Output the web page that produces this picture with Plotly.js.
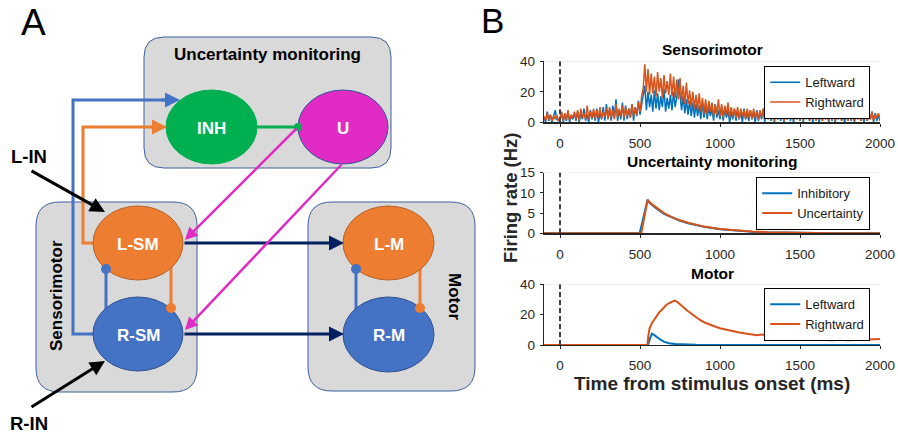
<!DOCTYPE html>
<html>
<head>
<meta charset="utf-8">
<script src="https://cdn.plot.ly/plotly-3.0.1.min.js"></script>
<style>html,body{margin:0;padding:0;background:#fff;}#chart{width:898px;height:438px;}</style>
</head>
<body>
<div id="chart"></div>
<script>
// ---------------- DATA ----------------
const smStart = -100;           // ms, first sample of sensorimotor traces
const smStep = 10;              // ms between samples
const smLeftward = [
  3,0,7,1,5,0,4,8,2,1,
  2,6,0,5,1,7,0,4,2,6,
  1,7,0,6,2,9,1,5,0,8,
  2,7,1,9,0,6,2,10,1,12,
  2,9,1,11,3,15,1,8,2,13,
  1,11,2,9,3,12,1,10,4,14,
  5,12,16,24,8,20,10,18,7,21,
  9,19,8,17,10,22,7,16,9,18,
  8,20,10,17,28,19,8,17,6,15,
  5,14,4,13,3,12,4,11,2,13,
  3,11,2,10,4,9,1,12,3,8,
  2,10,1,9,3,8,0,7,2,9,
  1,8,2,7,0,9,2,6,1,8,
  2,7,0,8,1,6,2,9,0,14,
  2,7,1,6,0,8,2,5,1,7,
  0,6,2,8,1,5,0,7,2,6,
  1,8,0,6,2,5,1,7,0,6,
  2,5,0,7,1,6,2,5,0,8,
  1,6,0,5,2,7,1,4,0,6,
  2,7,1,5,0,6,2,8,1,5,
  0,6,1,5,2,7,0,6,1,5,
  1
];
const smRightward = [
  4,1,6,2,5,1,4,2,5,1,
  3,7,1,6,2,8,1,5,3,7,
  2,8,1,9,3,6,2,11,2,7,
  3,9,2,8,3,10,2,7,4,9,
  2,10,3,8,2,12,3,9,4,11,
  3,10,4,9,3,12,4,10,5,13,
  7,17,22,38,20,35,18,32,19,30,
  17,33,20,29,16,31,19,27,18,32,
  17,30,16,28,15,29,14,24,12,26,
  12,21,10,20,9,18,8,19,7,16,
  6,15,5,14,7,13,4,12,5,15,
  4,12,3,11,5,13,3,10,4,9,
  3,10,2,9,4,8,2,9,3,8,
  2,9,3,7,2,8,3,9,2,7,
  2,7,3,8,1,6,2,7,3,6,
  1,7,2,6,3,8,1,6,2,7,
  2,6,1,7,3,5,1,6,2,8,
  1,6,2,5,1,7,2,6,1,5,
  2,6,1,5,2,7,1,6,3,5,
  1,6,2,8,1,5,2,6,1,7,
  2,5,1,6,2,7,1,5,3,6,
  2
];

const umInhX = [-100, 498, 546, 560, 580, 600, 650, 700, 750, 800, 850, 900, 1000, 1100, 1200, 1300, 1400, 1500, 1700, 2000];
const umInhY = [0, 0, 8.0, 7.5, 6.8, 6.2, 4.8, 3.9, 3.1, 2.5, 2.0, 1.6, 1.0, 0.65, 0.4, 0.25, 0.16, 0.1, 0.04, 0];
const umUncX = [-100, 508, 548, 560, 580, 600, 650, 700, 750, 800, 850, 900, 1000, 1100, 1200, 1300, 1400, 1500, 1700, 2000];
const umUncY = [0, 0, 8.3, 7.7, 7.0, 6.4, 5.0, 4.0, 3.2, 2.6, 2.05, 1.65, 1.05, 0.67, 0.42, 0.26, 0.17, 0.1, 0.04, 0];

const mLeftX = [-100, 550, 565, 575, 590, 610, 630, 650, 680, 720, 780, 850, 1000, 2000];
const mLeftY = [0, 0, 5, 7.5, 6.5, 4.8, 3.3, 2.2, 1.2, 0.6, 0.25, 0.1, 0.05, 0];
const mRightX = [-100, 546, 552, 560, 575, 590, 605, 620, 640, 660, 680, 700, 715, 730, 750, 770, 790, 810, 830, 850, 875, 900, 930, 960, 1000, 1040, 1080, 1120, 1160, 1200, 1230, 1260, 1300, 1350, 1400, 1450, 1500, 1550, 1600, 1650, 1700, 1750, 1800, 1850, 1900, 1950, 2000];
const mRightY = [0, 0, 6, 11, 14.5, 17, 19.5, 21.5, 23.5, 26, 27.5, 28.5, 29.3, 28.6, 27, 25, 23, 21.5, 19.8, 18, 16.5, 15, 13.5, 12.5, 11, 10, 9.2, 8.3, 7.6, 6.8, 6.5, 6.9, 6.0, 5.3, 4.8, 4.4, 4.0, 3.6, 3.4, 3.3, 3.2, 3.4, 3.1, 3.3, 3.5, 3.6, 3.9];

const xTicks = [0, 500, 1000, 1500, 2000];
const yTicksSM = [0, 20, 40];
const yTicksUM = [0, 5, 10, 15];
const yTicksM = [0, 20, 40];
const panelTitles = ['Sensorimotor', 'Uncertainty monitoring', 'Motor'];
const legendNames = [['Leftward', 'Rightward'], ['Inhibitory', 'Uncertainty'], ['Leftward', 'Rightward']];

// ---------------- STYLE ----------------
const W = 898, H = 438;
const FONT = 'Liberation Sans, Arial, Helvetica, sans-serif';
const BLUE = '#0072BD', ORANGE = '#D95319', AX = '#262626';
const px = v => v / W;
const py = v => 1 - v / H;

const traces = [
  {x0: smStart, dx: smStep, y: smLeftward, type: 'scatter', mode: 'lines', name: legendNames[0][0],
   line: {color: BLUE, width: 1.5}, xaxis: 'x', yaxis: 'y', legend: 'legend'},
  {x0: smStart, dx: smStep, y: smRightward, type: 'scatter', mode: 'lines', name: legendNames[0][1],
   line: {color: ORANGE, width: 1.5}, xaxis: 'x', yaxis: 'y', legend: 'legend'},
  {x: umInhX, y: umInhY, type: 'scatter', mode: 'lines', name: legendNames[1][0],
   line: {color: BLUE, width: 2}, xaxis: 'x2', yaxis: 'y2', legend: 'legend2'},
  {x: umUncX, y: umUncY, type: 'scatter', mode: 'lines', name: legendNames[1][1],
   line: {color: ORANGE, width: 2}, xaxis: 'x2', yaxis: 'y2', legend: 'legend2'},
  {x: mLeftX, y: mLeftY, type: 'scatter', mode: 'lines', name: legendNames[2][0],
   line: {color: BLUE, width: 2}, xaxis: 'x3', yaxis: 'y3', legend: 'legend3'},
  {x: mRightX, y: mRightY, type: 'scatter', mode: 'lines', name: legendNames[2][1],
   line: {color: ORANGE, width: 2}, xaxis: 'x3', yaxis: 'y3', legend: 'legend3'}
];

const xDom = [px(544), px(880)];
const yDoms = [[py(122.3), py(61.3)], [py(233.3), py(172.5)], [py(345), py(284.3)]];
const yRanges = [[0, 40], [0, 15], [0, 40]];
const yTickSets = [yTicksSM, yTicksUM, yTicksM];

function xaxisDef(anchor) {
  return {domain: xDom, range: [-100, 2000], anchor: anchor, tickvals: xTicks, ticks: 'outside', ticklen: 3,
    tickcolor: AX, tickwidth: 1, showline: true, linecolor: AX, linewidth: 1.2, showgrid: false, zeroline: false,
    tickfont: {family: FONT, size: 13.5, color: AX}, ticklabelstandoff: 5, fixedrange: true};
}
function yaxisDef(i, anchor) {
  return {domain: yDoms[i], range: yRanges[i], anchor: anchor, tickvals: yTickSets[i], ticks: 'outside', ticklen: 3,
    tickcolor: AX, tickwidth: 1, showline: true, linecolor: AX, linewidth: 1.2, showgrid: false, zeroline: false,
    tickfont: {family: FONT, size: 13.5, color: AX}, ticklabelstandoff: 2, fixedrange: true};
}

const shapes = [];
const annotations = [];

// plot decorations: light top border and dashed onset line
['', '2', '3'].forEach((s, i) => {
  shapes.push({type: 'line', xref: 'x' + s, yref: 'y' + s, x0: -100, x1: 2000, y0: yRanges[i][1], y1: yRanges[i][1],
    line: {color: '#e3e3e3', width: 1}, layer: 'below'});
  shapes.push({type: 'line', xref: 'x' + s, yref: 'y' + s, x0: 0, x1: 0, y0: 0, y1: yRanges[i][1],
    line: {color: '#404040', width: 2, dash: '5px,3px'}});
});

// subplot titles
const titleY = [50, 162, 273];
panelTitles.forEach((t, i) => annotations.push({text: '<b>' + t + '</b>', xref: 'paper', yref: 'paper',
  x: px(712), y: py(titleY[i]), xanchor: 'center', yanchor: 'middle', showarrow: false,
  font: {family: FONT, size: 15.5, color: '#000'}}));
annotations.push({text: '<b>Time from stimulus onset (ms)</b>', xref: 'paper', yref: 'paper', x: px(712), y: py(383),
  xanchor: 'center', yanchor: 'middle', showarrow: false, font: {family: FONT, size: 19, color: AX}});
annotations.push({text: '<b>Firing rate (Hz)</b>', xref: 'paper', yref: 'paper', x: px(510), y: py(198), textangle: -90,
  xanchor: 'center', yanchor: 'middle', showarrow: false, font: {family: FONT, size: 18.5, color: AX}});

// ---------------- DIAGRAM (panel A) ----------------
function rrect(x0, y0, x1, y1, r) {
  const P = (x, y) => px(x) + ',' + py(y);
  return 'M' + P(x0 + r, y0) + ' L' + P(x1 - r, y0) + ' Q' + P(x1, y0) + ' ' + P(x1, y0 + r) +
    ' L' + P(x1, y1 - r) + ' Q' + P(x1, y1) + ' ' + P(x1 - r, y1) +
    ' L' + P(x0 + r, y1) + ' Q' + P(x0, y1) + ' ' + P(x0, y1 - r) +
    ' L' + P(x0, y0 + r) + ' Q' + P(x0, y0) + ' ' + P(x0 + r, y0) + ' Z';
}
function poly(pts) {
  return pts.map((p, i) => (i ? 'L' : 'M') + px(p[0]) + ',' + py(p[1])).join(' ');
}
const BOXFILL = '#d9d9d9', BOXLINE = '#3c5f9e';
[[144, 37, 391, 168, 20], [36, 202, 197, 392, 24], [308, 202, 475, 391, 24]].forEach(b =>
  shapes.push({type: 'path', xref: 'paper', yref: 'paper', path: rrect(...b), fillcolor: BOXFILL,
    line: {color: BOXLINE, width: 1}}));

const CB = '#4472c4', CO = '#ed7d31', CG = '#00b050', CM = '#e02bc4', NAVY = '#002060';
function seg(pts, color, w) {
  shapes.push({type: 'path', xref: 'paper', yref: 'paper', path: poly(pts), line: {color: color, width: w}});
}
// connector lines (drawn under the ellipses)
seg([[95, 334], [73, 334], [73, 100], [172, 100]], CB, 3);
seg([[95, 243], [83, 243], [83, 127], [158, 127]], CO, 3);
seg([[106, 315], [106, 269]], CB, 3);
seg([[171, 262], [171, 308]], CO, 3);
seg([[356, 315], [356, 269]], CB, 3);
seg([[420, 262], [420, 308]], CO, 3);
seg([[257, 127], [298, 127]], CG, 3);

function ell(cx, cy, rx, ry, fill, edge) {
  shapes.push({type: 'circle', xref: 'paper', yref: 'paper', x0: px(cx - rx), x1: px(cx + rx),
    y0: py(cy + ry), y1: py(cy - ry), fillcolor: fill, line: {color: edge, width: 1}});
}
ell(211.5, 127, 45.5, 37, CG, CG);
ell(343, 127, 45, 37, CM, '#2f5597');
ell(138, 243, 45, 37, CO, '#b6612a');
ell(138, 334, 45, 37, '#4472c4', '#2f528f');
ell(388.5, 243, 45.5, 37, CO, '#b6612a');
ell(388.5, 334.5, 45.5, 37.5, '#4472c4', '#2f528f');

function dot(cx, cy, r, color) {
  shapes.push({type: 'circle', xref: 'paper', yref: 'paper', x0: px(cx - r), x1: px(cx + r),
    y0: py(cy + r), y1: py(cy - r), fillcolor: color, line: {width: 0}});
}
dot(106, 269, 5, CB);
dot(171, 308, 5, CO);
dot(356, 269, 5, CB);
dot(420, 308, 5, CO);
dot(298, 127, 4, CG);

function arrow(x0, y0, x1, y1, color, w) {
  annotations.push({text: '', xref: 'paper', yref: 'paper', x: px(x1), y: py(y1), ax: x0 - x1, ay: y0 - y1,
    axref: 'pixel', ayref: 'pixel', showarrow: true, arrowhead: 2, arrowsize: 1, arrowwidth: w,
    arrowcolor: color, standoff: 0, startstandoff: 0});
}
arrow(160, 100, 180, 100, CB, 3);
arrow(150, 127, 167, 127, CO, 3);
arrow(183, 243, 344, 243, NAVY, 3);
arrow(183, 334, 344, 334, NAVY, 3);
arrow(298, 127, 185, 240, CM, 2.5);
arrow(343, 163, 185, 330, CM, 2.5);
arrow(30, 170, 105, 212, '#000', 3);
arrow(30, 408, 105, 361, '#000', 3);

function label(t, x, y, size, color, angle, bold) {
  annotations.push({text: bold === false ? t : '<b>' + t + '</b>', xref: 'paper', yref: 'paper', x: px(x), y: py(y),
    xanchor: 'center', yanchor: 'middle', showarrow: false, textangle: angle || 0,
    font: {family: FONT, size: size, color: color}});
}
label('Uncertainty monitoring', 267, 54, 17, '#000');
label('INH', 211.5, 128, 17, '#fff');
label('U', 343, 128, 17, '#fff');
label('L-SM', 138, 244, 17, '#fff');
label('R-SM', 138, 335, 17, '#fff');
label('L-M', 388.5, 244, 17, '#fff');
label('R-M', 388.5, 335, 17, '#fff');
label('Sensorimotor', 56, 296, 17, '#000', -90);
label('Motor', 455, 297, 17, '#000', 90);
label('L-IN', 29, 156, 18.5, '#000');
label('R-IN', 29, 423, 18.5, '#000');
label('A', 33, 22, 37, '#000', 0, false);
label('B', 492, 21, 35, '#000', 0, false);

function legendDef(top) {
  return {x: px(870), xanchor: 'right', y: py(top), yanchor: 'top', bgcolor: '#fff', bordercolor: '#000',
    borderwidth: 1.2, font: {family: FONT, size: 13, color: '#1a1a1a'}, tracegroupgap: 0, itemwidth: 30};
}

const layout = {
  width: W, height: H, margin: {l: 0, r: 0, t: 0, b: 0}, paper_bgcolor: '#fff', plot_bgcolor: 'rgba(0,0,0,0)',
  showlegend: true,
  xaxis: xaxisDef('y'), yaxis: yaxisDef(0, 'x'),
  xaxis2: xaxisDef('y2'), yaxis2: yaxisDef(1, 'x2'),
  xaxis3: xaxisDef('y3'), yaxis3: yaxisDef(2, 'x3'),
  legend: legendDef(66), legend2: legendDef(177), legend3: legendDef(288),
  shapes: shapes, annotations: annotations
};

Plotly.newPlot('chart', traces, layout, {staticPlot: true, displayModeBar: false});
</script>
</body>
</html>
